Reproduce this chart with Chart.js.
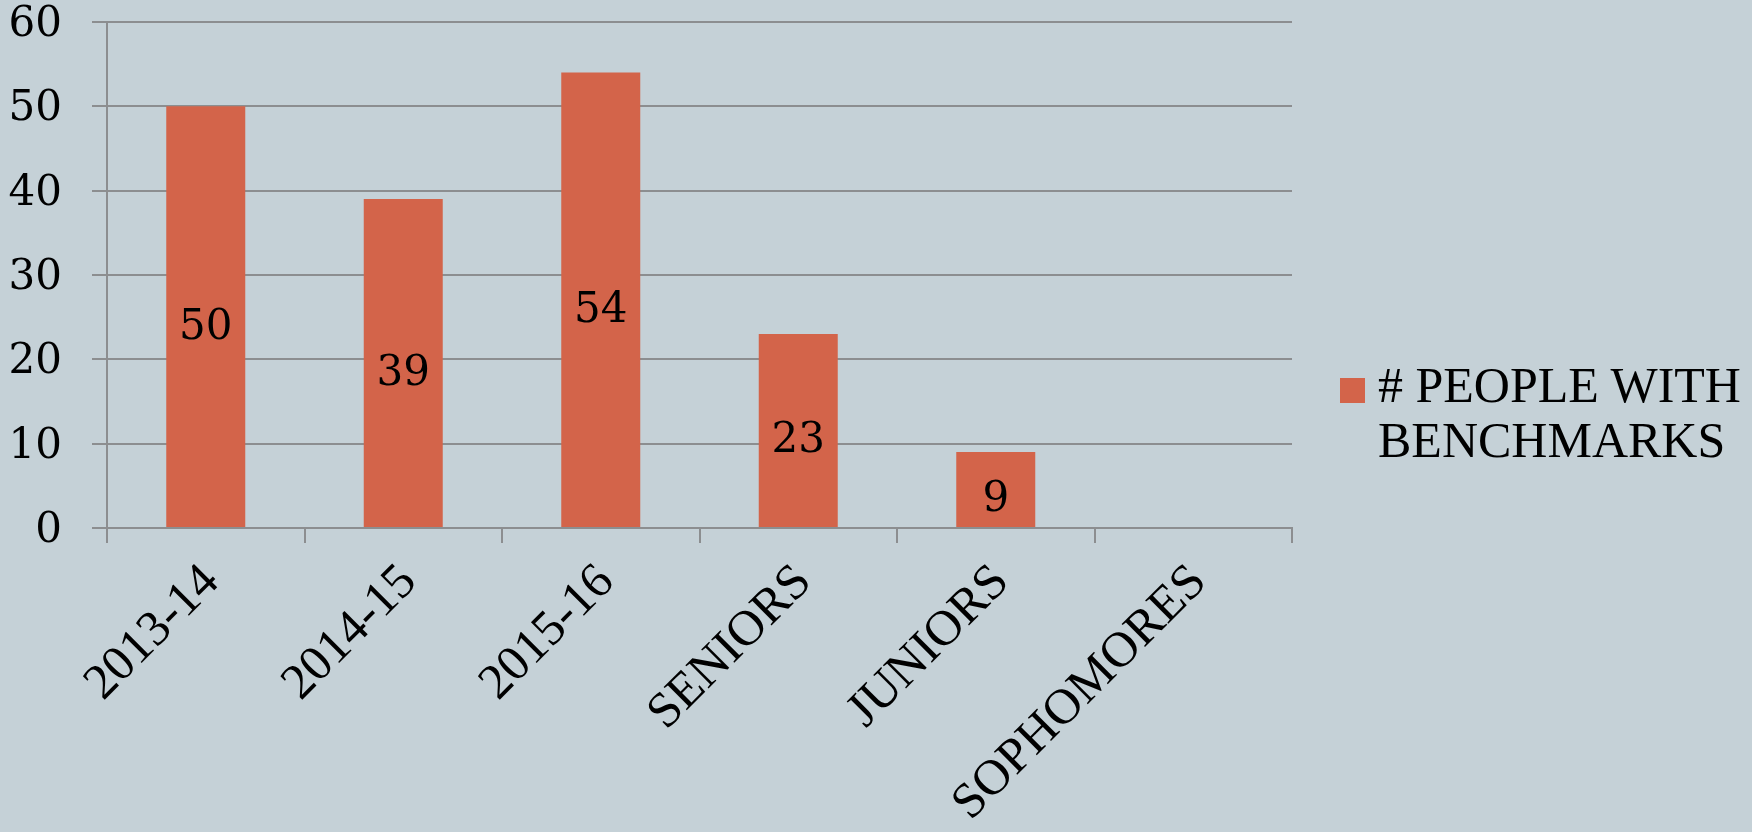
<!DOCTYPE html>
<html>
<head>
<meta charset="utf-8">
<script src="https://cdn.jsdelivr.net/npm/chart.js@4/dist/chart.umd.min.js"></script>
<style>
  html, body { margin: 0; padding: 0; background: #C5D1D7; }
  #wrap { position: relative; width: 1752px; height: 832px; }
  #legend { position: absolute; left: 1340px; top: 358px; font-family: "Liberation Serif", serif; font-size: 50px; line-height: 55px; color: #000; }
  #legend .sw { position: absolute; left: 0; top: 20px; width: 25px; height: 25px; }
  #legend .tx { position: absolute; left: 38px; top: 0; white-space: nowrap; }
</style>
</head>
<body>
<div id="wrap">
  <canvas id="c" width="1752" height="832"></canvas>
  <div id="legend"><div class="sw"></div><div class="tx"></div></div>
</div>
<script>
const categories = ["2013-14", "2014-15", "2015-16", "SENIORS", "JUNIORS", "SOPHOMORES"];
const seriesLabelLines = ["# PEOPLE WITH", "BENCHMARKS"];
const peopleWithBenchmarks = [50, 39, 54, 23, 9, null];
const yTicks = [0, 10, 20, 30, 40, 50, 60];

const barColor = "#D3644A";
const gridColor = "#8C8E90";

const valueLabels = {
  id: "valueLabels",
  afterDatasetsDraw(chart) {
    const ctx = chart.ctx;
    ctx.save();
    ctx.font = '42px "DejaVu Serif"';
    ctx.fillStyle = "#000";
    ctx.textAlign = "center";
    ctx.textBaseline = "middle";
    chart.getDatasetMeta(0).data.forEach((bar, i) => {
      const v = chart.data.datasets[0].data[i];
      if (v === null || v === undefined) return;
      ctx.fillText(String(v), bar.x, (bar.y + bar.base) / 2 + 11);
    });
    ctx.restore();
  }
};

new Chart(document.getElementById("c"), {
  type: "bar",
  data: {
    labels: categories,
    datasets: [{
      label: seriesLabelLines.join(" "),
      data: peopleWithBenchmarks,
      backgroundColor: barColor,
      borderWidth: 0,
      barPercentage: 0.4,
      categoryPercentage: 1.0
    }]
  },
  options: {
    responsive: false,
    animation: false,
    layout: { padding: { top: 22, right: 460, left: 0, bottom: 0 } },
    plugins: { legend: { display: false }, tooltip: { enabled: false } },
    scales: {
      x: {
        offset: true,
        grid: { display: true, drawOnChartArea: false, drawTicks: true, tickLength: 15, color: gridColor, lineWidth: 2, offset: true },
        border: { display: true, color: gridColor, width: 2 },
        ticks: { color: "#000", font: { family: "Liberation Serif", size: 50 }, minRotation: 45, maxRotation: 45, padding: 10, labelOffset: 6, autoSkip: false },
        afterFit(s) { s.height = 304; s.paddingLeft = 0; s.paddingRight = 0; }
      },
      y: {
        min: 0, max: 60,
        afterBuildTicks(s) { s.ticks = yTicks.map(v => ({ value: v })); },
        grid: { color: gridColor, lineWidth: 2, tickLength: 15, drawTicks: true },
        border: { display: true, color: gridColor, width: 2 },
        ticks: { color: "#000", font: { family: "DejaVu Serif", size: 42 }, padding: 30, labelOffset: 3 },
        afterFit(s) { s.width = 107; s.paddingTop = 0; s.paddingBottom = 0; }
      }
    }
  },
  plugins: [valueLabels]
});

const lg = document.getElementById("legend");
lg.querySelector(".sw").style.background = barColor;
lg.querySelector(".tx").innerHTML = seriesLabelLines.join("<br>");
</script>
</body>
</html>
